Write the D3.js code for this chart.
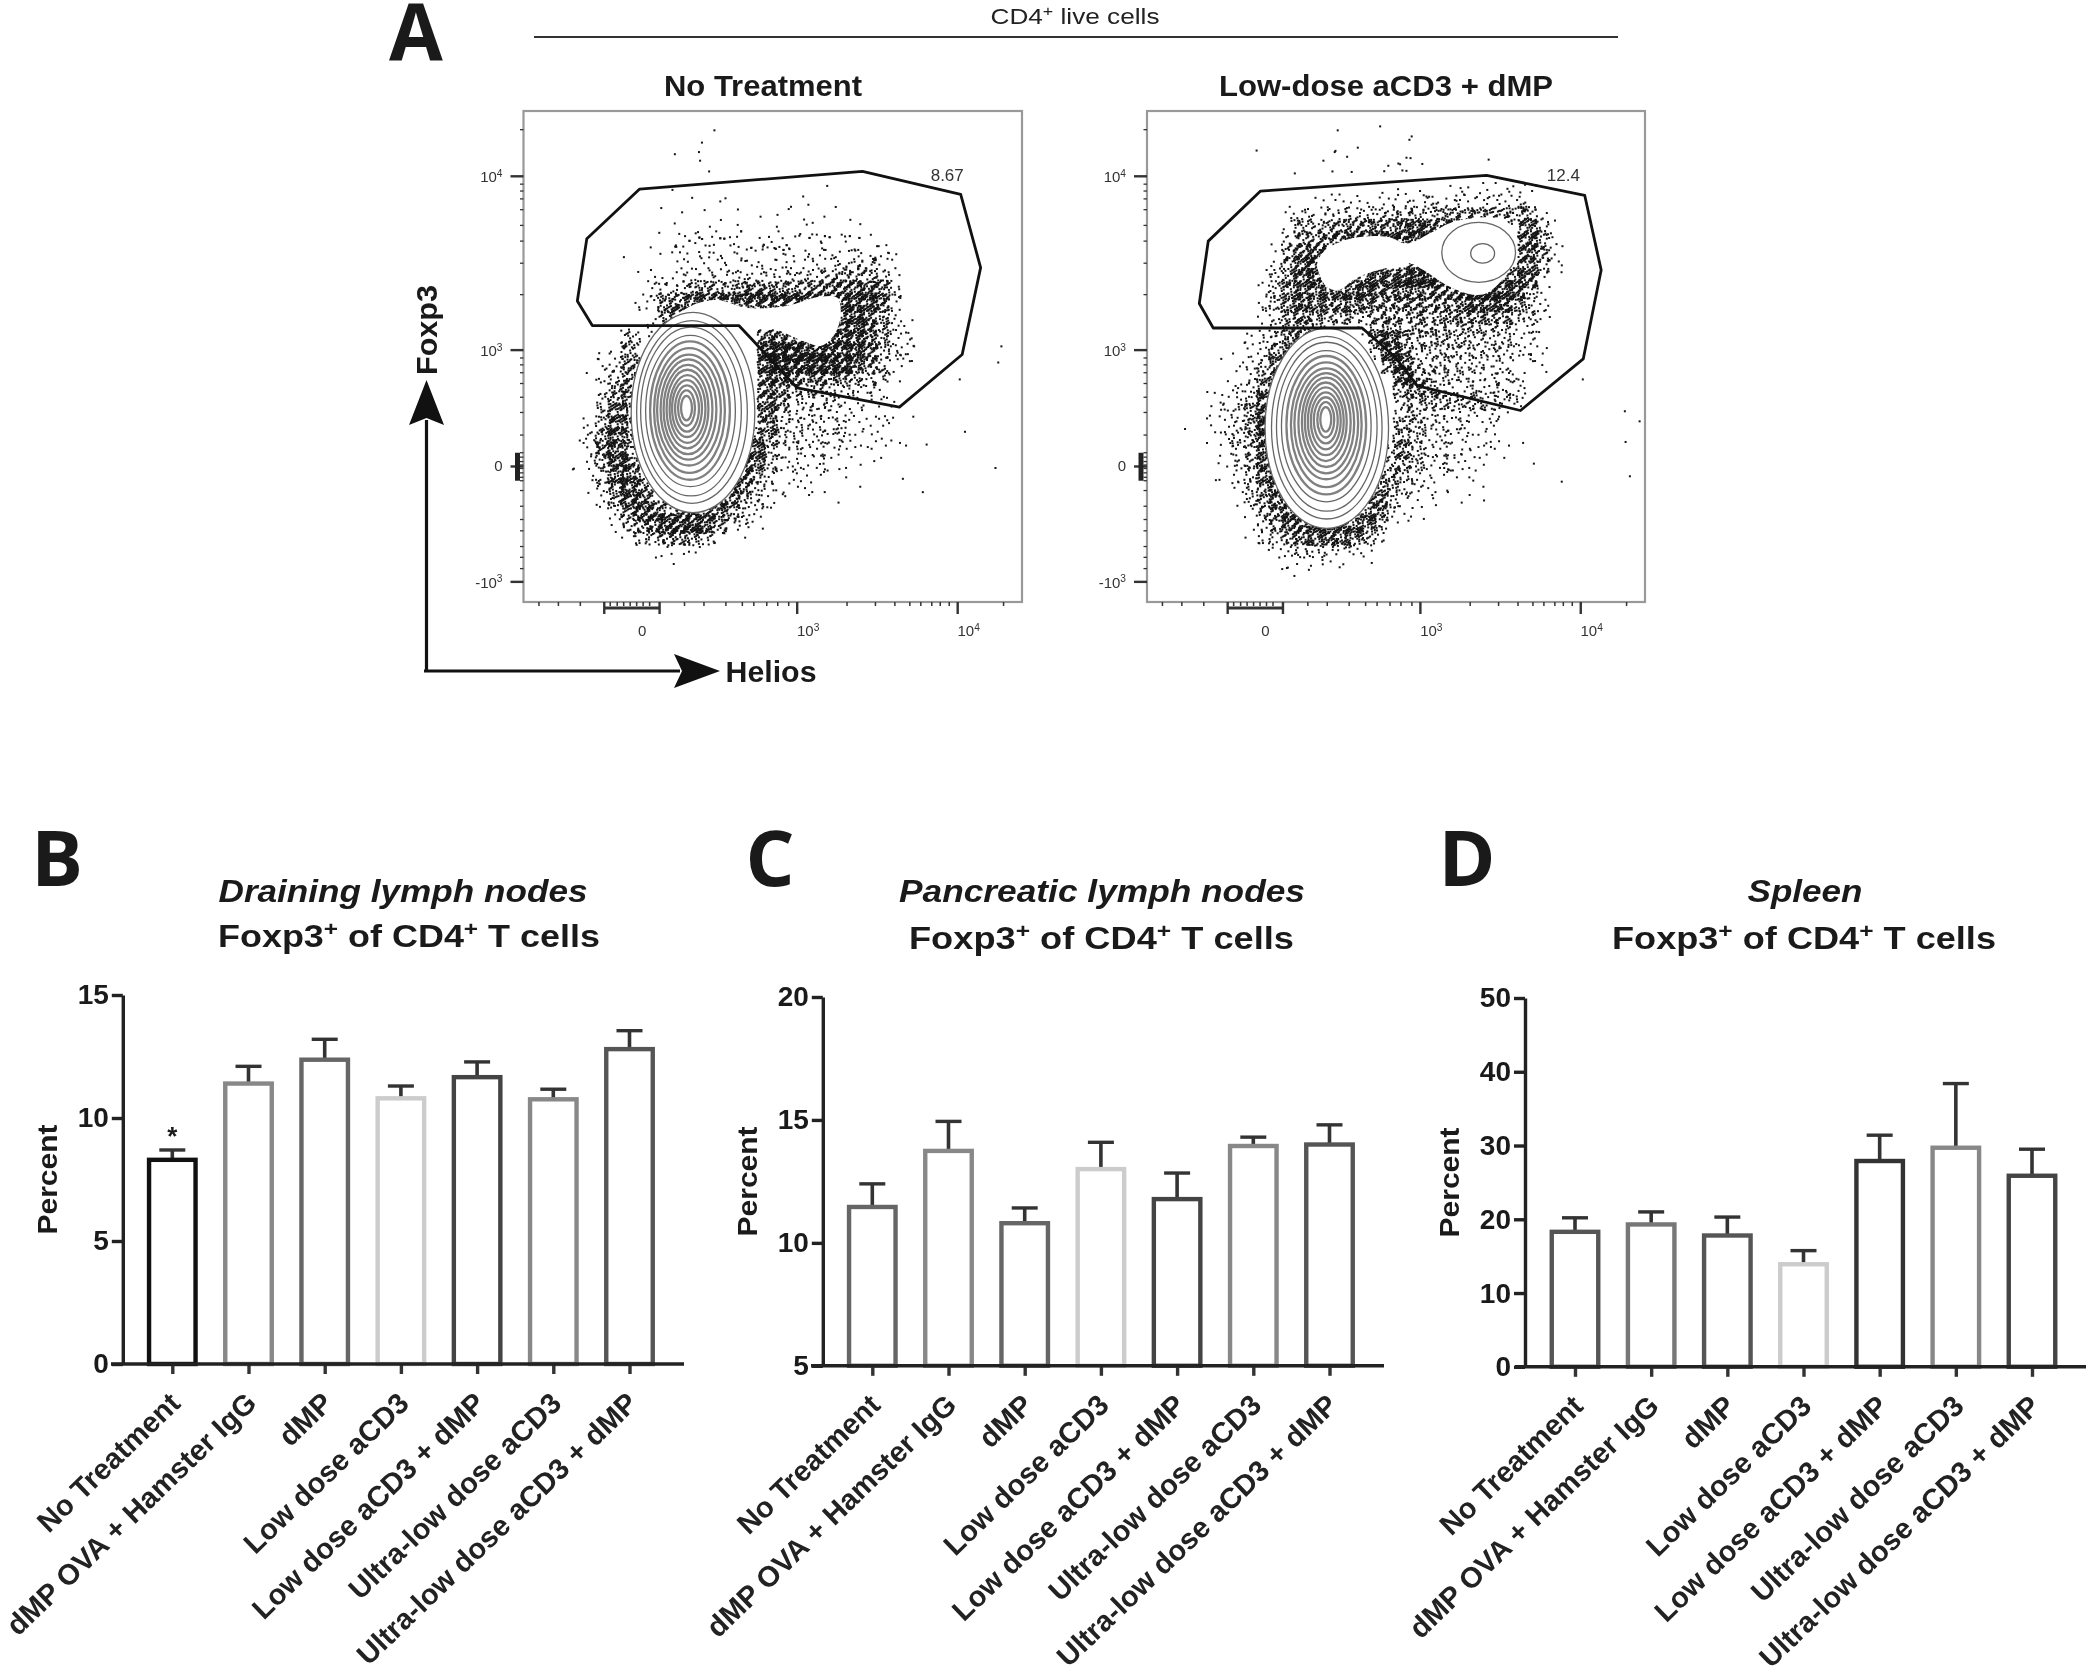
<!DOCTYPE html>
<html><head><meta charset="utf-8">
<style>html,body{margin:0;padding:0;background:#fff}svg{display:block;filter:blur(0.7px)}text{font-family:"Liberation Sans",Arial,sans-serif}</style>
<script src="https://cdn.jsdelivr.net/npm/d3@7"></script></head><body><svg id="c" width="2100" height="1679"></svg>
<script>
// ---------- Bar chart data ----------
const categories=["No Treatment","dMP OVA + Hamster IgG","dMP","Low dose aCD3","Low dose aCD3 + dMP","Ultra-low dose aCD3","Ultra-low dose aCD3 + dMP"];
const drainingMeans=[8.3,11.4,12.37,10.8,11.66,10.76,12.8];
const drainingUpper=[8.7,12.1,13.2,11.3,12.28,11.17,13.55];
const pancreaticMeans=[11.46,13.74,10.8,13.0,11.78,13.94,14.0];
const pancreaticUpper=[12.4,14.94,11.42,14.09,12.84,14.3,14.8];
const spleenMeans=[18.3,19.3,17.8,13.9,27.9,29.7,25.9];
const spleenUpper=[20.2,21.0,20.3,15.75,31.4,38.4,29.5];
const drainingColors=["#111","#888","#666","#ccc","#444","#888","#555"];
const pancreaticColors=["#666","#888","#666","#ccc","#444","#888","#555"];
const spleenColors=["#555","#777","#555","#ccc","#333","#888","#444"];
const drainingTicks=[0,5,10,15], pancreaticTicks=[5,10,15,20], spleenTicks=[0,10,20,30,40,50];

// ---------- Flow plot data: axes in percent of the plot frame ----------
const gateNoTreatment=[[23.3,84.1],[68,87.7],[87.7,83],[91.7,68.1],[88,50.4],[75.4,39.7],[54.9,43.6],[45.8,53.5],[43.2,56.3],[13.8,56.3],[10.8,61.3],[12.7,74]];
const gateLowDose=[[22.8,83.7],[68.2,86.9],[87.9,82.8],[91.2,67.6],[87.6,49.5],[75,39],[54.3,44],[49.8,49.9],[43.2,55.8],[13.3,55.8],[10.5,60.8],[12.3,73.5]];
// white, over-plotted lobes of the upper population
const lobeNoTreatment=[[30.1,57.6],[33.6,60.3],[38.8,61.5],[44.9,59.9],[52.7,60.3],[59.7,62.2],[63,61.9],[63.6,58.1],[62.3,54.4],[59.7,52.2],[56.2,53.1],[51,55.4],[46.6,56.7],[38.8,57.6]];
const lobeLowDose=[[34.2,69],[35.9,71.7],[40.8,74],[48.2,74.4],[52.3,73],[57.2,75.3],[62.1,77.6],[71.1,78],[74,75.3],[73.5,69],[68.6,63.1],[65.4,62.6],[60.4,64.4],[55.5,67.6],[52.7,69],[48.2,68.1],[42.4,66.2],[38.3,63.5],[35.9,64.4]];
const flowYMinor=[96.2,85.1,83.7,82.1,79.9,76.7,73.5,69,62.6,49.7,48.3,46.7,44.5,41.7,38.6,34,30.4,29.5,28.6,27.9,27.2,26.3,25.4,24.7,22.7,19.5,16.8,14.5,11.3,9.1,6.8];
const flowYMajor=[86.7,51.3,27.6,4.1];
const flowXMinor=[3.1,7,11.4,17.4,18.8,20.1,21.4,22.7,24,25.3,32.3,36.2,40.6,43.9,46.2,48.8,51,53.2,64.9,70.6,74.5,77.5,79.7,81.9,83.6,85.4,96.3];
const flowXMajor=[16.2,27.3,54.9,87.1];
const flowYLabels=[["10","4",86.7],["10","3",51.3],["0","",28],["-10","3",4.1]];
const flowXLabels=[["0","",23.8],["10","3",57.1],["10","4",89.3]];
// contour ellipses, outer to inner: centre x, centre y, radius x, radius y
const contourRx=[12.4,11.1,10.1,9,8,7.1,6.4,5.6,4.9,4.2,3.6,3,2.4,1.7,1.1];
const contourRy=[20.4,18.6,17.2,15.4,14.1,12.7,11.3,10.2,9.1,8,6.9,5.8,4.7,3.6,2.5];
const contourCxA=[34,33.8,33.6,33.5,33.4,33.3,33.2,33.1,33,32.9,32.9,32.8,32.8,32.7,32.7];
const contourCyA=[38.6,38.7,38.8,38.9,39,39,39.1,39.2,39.2,39.3,39.3,39.4,39.4,39.5,39.5];
const contourCxB=[36.1,36.1,36.1,36,36,36,36,36,36,35.9,35.9,35.9,35.9,35.9,35.9];
const contourCyB=[35.4,35.5,35.7,35.8,36,36.1,36.3,36.4,36.6,36.7,36.8,36.9,37,37.1,37.2];
const upperContoursB=[[66.6,71.2,7.4,6.1],[67.4,71,2.4,2]];
// Dot density, on a 40 x 40 cell grid. Each row: "col:level" or "from-to:level".
const densityNoTreatment=["","14:1","13-14:1","11:1 14:1","","15:1","12:1 16:1 22:1 24:1","11:1 13:1 15-16:1 21-22:1 24:1","12:1 14:1 16:1 18:1 20-24:1","11:1 13:1 15:1 17:1 19-23:1 25-26:1 28:1",
"10:1 11-28:1 12-26:2","8:1 11-29:2","9:1 12-24:2 25-28:4","10-13:2 14-22:3 23-28:5 29:2","10-12:3 13-17:6 18-24:7 25-28:8 29:4","9-11:3 11-12:7 13-25:8 26-28:8 29:4","11-12:7 25-27:8 28:5 29:3","10-11:4 12:6 25-27:8 28-29:5 30:2","7:1 8:6 19-21:8 22-23:4 24-27:8 28:6 29-30:3 37:1","6-7:2 8:6 19-23:9 24-26:8 27:7 28:5 29-30:3",
"5-7:2 8:7 19-25:9 26:8 27:7 28:5 29:3 30:2 37:1","5:1 6-7:3 8:7 19-20:8 21-25:7 26:6 27-28:4 29:2","6:3 7:6 8:8 19:8 20:7 21-24:5 25-28:3 35:1","6:4 7:7 8:5 19:8 20:6 21-24:4 25-28:2 29:1","6:5 7:8 8:4 19:8 20:5 21-26:3 27-30:1","5:2 6:6 7:8 8:5 19:7 20:5 21-25:3 26-29:2","4:2 5:3 6:7 7:8 8:5 18:7 19:7 20:4 21-25:3 26-28:2 29-31:1 35:1","5:3 6:7 7:8 8:6 18:8 19:6 20:3 21-25:3 26-29:1","4:1 5:3 6:6 7:8 8:7 17:8 18:8 19:5 20:3 21-24:2 25-27:1 38:1","4:1 5:2 6:5 7:8 8:8 17:8 18:6 19:4 20:2 21-23:2 24-25:1 30:1",
"5:2 6:4 7:7 8:8 9:7 16:8 17:7 18:5 19:3 20-22:2 23-24:1 26:1 31:1","6:3 7:6 8:8 9:8 15:8 16:8 17:5 18:4 19:2 20-21:1 24:1","6:2 7:4 8:7 9:8 10:8 11-14:5 15:8 16:6 17:4 18:3 19:1","7:3 8:5 9:7 10:8 11-14:9 15:6 16:4 17:3 18:2","8:2 9:4 10:6 11-13:7 14:5 15:3 16-17:1","8-9:1 10:2 11-13:2 14:1","12:1"];
const densityLowDose=["","14:1 18:1 21:1","15:1 20:1","9:1 14-17:1 27:1","12:1 16:1 19-21:2","15:1","17:1 18-22:1 24-30:2","12-13:1 14-19:2 20-22:3 23-30:3","11-14:3 15-19:4 20-23:5 24-30:6 31:3","11:3 12-13:5 14-15:6 16-19:7 20-24:8 30:8 31:5 32:2",
"11:4 12-13:6 14:7 15-22:8 23:6 30:8 31:6 32:2","10:2 11:6 12-13:8 30:8 31:6 32:3","10:3 11:6 12-13:8 21-23:8 30:8 31:5 32:2","9:2 10:4 11:6 12-13:8 17-19:8 20-23:9 24:8 29-30:8 31:4 32:1","9:3 10:4 11:7 12:8 13:7 14-17:8 18-24:7 25-28:9 29:8 30:6 31:3","9:3 10:5 11:7 12:8 13-17:7 18-23:6 24-25:7 26-28:8 29:7 30:5 31:2","9:3 10:4 11:6 12:7 13-16:6 17-20:5 21-24:6 25-28:7 29:5 30:4 31:3","8:1 9:2 10:3 11:5 12:7 13:4 14-17:2 18:6 19:7 20-26:5 27-28:4 29-30:3 31:2","7:1 8:2 9:3 10:5 11:7 12:4 18-19:8 20:6 21-24:5 25-28:4 29-30:3 31:1","7:1 8:2 9:3 10:7 11:6 18:4 19:9 20:7 21-28:4 29-31:2",
"6:1 7-8:2 9:4 10:7 11:3 19-20:8 21-24:4 25-28:3 29-31:2","6-7:1 8:3 9:6 10:7 20:9 21:6 22-25:4 26-29:3 30:1","5:1 6:2 7:3 8:4 9:7 10:6 20:7 21:7 22:6 23-29:3 35:1","5-6:2 7:3 8:5 9:8 10:3 20:4 21:5 22-23:6 24-26:5 27-29:4","4-5:1 6:3 7:4 8:6 9:8 20:5 21:4 22-27:3 28:2 38:1","3:1 5-6:2 7:4 8:6 9:9 20:6 21:5 22-24:3 25-27:2 39:1","5:1 6:3 7:4 8:6 9:8 20:6 21:4 22-24:3 25-27:2 28:1 38:1","5:1 6:2 7:3 8:6 9:8 19:5 20:7 21:4 22-24:3 25-27:2 28-29:1","5:1 6:2 7:3 8:5 9:8 19:5 20:6 21:4 22-24:3 25-26:2 31:1","6:1 7:3 8:5 9:8 10:4 19:6 20:5 21:3 22-24:2 25-26:1 33:1 38:1",
"5-6:1 7:2 8:4 9:7 10:7 18:6 19:6 20:4 21:3 22-23:2 24-26:1","7:2 8:4 9:6 10:8 11:6 18:8 19:4 20:3 21:2 22-24:1 27:1","7:1 8:3 9:5 10:7 11:8 12-16:3 17:6 18:8 19:3 20:2 21:1","8:2 9:4 10:6 11:8 12-16:7 17:8 18:5 19:2 20:1","8:1 9:3 10:5 11:6 12-16:8 17:6 18:3 19:1","8:1 9:2 10:3 11-15:4 16:3 17:2","10:1 11-14:2 15:1 17:1","12:1 15:1"];
const dotsPerLevel=[0,1,3,6,10,15,22,32,46,64];

const svg=d3.select("#c");
const INK="#1a1a1a";

function addText(parent,o){
  const t=parent.append("text").attr("x",o.x).attr("y",o.y).attr("text-anchor",o.anchor||"middle")
    .attr("font-size",o.size).attr("font-weight",o.weight||"bold").attr("font-style",o.italic?"italic":"normal").attr("fill",o.fill||INK);
  if(o.family) t.style("font-family",o.family);
  if(o.transform) t.attr("transform",o.transform);
  if(o.length) t.attr("textLength",o.length).attr("lengthAdjust","spacingAndGlyphs");
  (o.parts||[[o.text,false]]).forEach(([s,sup],i,arr)=>{
    const sp=t.append("tspan").text(s);
    if(sup){sp.attr("dy",-o.size*0.36).attr("font-size",o.size*0.68);}
    else if(i>0&&arr[i-1][1]){sp.attr("dy",o.size*0.36);}
  });
  return t;
}

// ---------- Panel letters and shared header ----------
const LETTER='"Open Sans","Liberation Sans",sans-serif';
[["A",416,60,78],["B",57,886,77],["C",770,886,77],["D",1467,886,77]].forEach(([s,x,y,f])=>addText(svg,{x,y,size:f,text:s,family:LETTER}));
addText(svg,{x:1075,y:24,size:22,weight:"normal",length:169,fill:"#222",parts:[["CD4",false],["+",true],[" live cells",false]]});
svg.append("line").attr("x1",534).attr("x2",1618).attr("y1",37).attr("y2",37).attr("stroke","#333").attr("stroke-width",2);

// ---------- Flow cytometry panels ----------
function parseDensity(rows){
  return rows.flatMap((row,r)=>row.split(" ").filter(Boolean).flatMap(tok=>{
    const [span,v]=tok.split(":"); const [a,b=a]=span.split("-").map(Number);
    return d3.range(a,b+1).map(col=>({col,row:r,level:+v}));
  }));
}
function flowPanel(o){
  const x=d3.scaleLinear().domain([0,100]).range([o.left,o.right]);
  const y=d3.scaleLinear().domain([0,100]).range([o.bottom,o.top]);
  const g=svg.append("g");
  // stipple the density cells. Where a dot falls inside its cell is texture only: a fixed
  // low-discrepancy sequence, spread slightly past the cell edge so the grid does not show.
  const frac=v=>v-Math.floor(v);
  const SPREAD=1.6;
  const dots=parseDensity(o.density).flatMap(c=>d3.range(dotsPerLevel[c.level]).map(k=>{
    const s=(c.col*c.col*3+c.row*c.row*7+c.col*c.row*5)%97+k;
    const ux=frac(s*0.75488+0.31*frac(s*0.1324));
    const uy=frac(s*0.56984+0.37*frac(s*0.2113));
    return {px:(c.col+0.5+(ux-0.5)*SPREAD)*2.5,py:100-(c.row+0.5+(uy-0.5)*SPREAD)*2.5};
  }));
  g.append("g").selectAll("rect").data(dots).join("rect")
    .attr("x",d=>x(d.px)).attr("y",d=>y(d.py)).attr("width",2).attr("height",2).attr("fill","#141414");
  g.append("path").attr("d",d3.line().x(d=>x(d[0])).y(d=>y(d[1])).curve(d3.curveCatmullRomClosed)(o.lobe)).attr("fill","#fff");
  g.append("g").selectAll("ellipse").data(contourRx).join("ellipse")
    .attr("cx",(d,i)=>x(o.cx[i])).attr("cy",(d,i)=>y(o.cy[i]))
    .attr("rx",d=>x(d)-x(0)).attr("ry",(d,i)=>y(0)-y(contourRy[i]))
    .attr("fill",(d,i)=>i==0?"#fff":"none").attr("stroke",(d,i)=>i<4?"#666":"#808080").attr("stroke-width",(d,i)=>i<4?1.3:2.3);
  g.append("g").selectAll("ellipse").data(o.upper||[]).join("ellipse")
    .attr("cx",d=>x(d[0])).attr("cy",d=>y(d[1])).attr("rx",d=>x(d[2])-x(0)).attr("ry",d=>y(0)-y(d[3]))
    .attr("fill","none").attr("stroke","#666").attr("stroke-width",1.3);
  g.append("path").attr("d",d3.line().x(d=>x(d[0])).y(d=>y(d[1])).curve(d3.curveLinearClosed)(o.gate))
    .attr("fill","none").attr("stroke","#111").attr("stroke-width",2.8).attr("stroke-linejoin","round");
  g.append("rect").attr("x",o.left).attr("y",o.top).attr("width",o.right-o.left).attr("height",o.bottom-o.top)
    .attr("fill","none").attr("stroke","#999").attr("stroke-width",2.2);
  // ticks
  const yT=[...flowYMinor.map(v=>[v,3.5,1.3]),...flowYMajor.map(v=>[v,13,2.4])];
  g.append("g").selectAll("line").data(yT).join("line")
    .attr("x1",o.left).attr("x2",d=>o.left-d[1]).attr("y1",d=>y(d[0])).attr("y2",d=>y(d[0]))
    .attr("stroke","#333").attr("stroke-width",d=>d[2]);
  const xT=[...flowXMinor.map(v=>[v,4,1.5]),...flowXMajor.map(v=>[v,12,2.4])];
  g.append("g").selectAll("line").data(xT).join("line")
    .attr("y1",o.bottom).attr("y2",d=>o.bottom+d[1]).attr("x1",d=>x(d[0])).attr("x2",d=>x(d[0]))
    .attr("stroke","#333").attr("stroke-width",d=>d[2]);
  g.append("line").attr("x1",x(16.2)).attr("x2",x(27.3)).attr("y1",o.bottom+6).attr("y2",o.bottom+6).attr("stroke","#333").attr("stroke-width",3);
  g.append("line").attr("y1",y(30.4)).attr("y2",y(24.7)).attr("x1",o.left-6).attr("x2",o.left-6).attr("stroke","#222").attr("stroke-width",5);
  flowYLabels.forEach(([b,s,v])=>addText(g,{x:o.left-21,y:y(v)+6,size:15,weight:"normal",anchor:"end",fill:"#333",parts:s?[[b,false],[s,true]]:[[b,false]]}));
  flowXLabels.forEach(([b,s,v])=>addText(g,{x:x(v),y:o.bottom+34,size:15,weight:"normal",fill:"#333",parts:s?[[b,false],[s,true]]:[[b,false]]}));
  addText(g,{x:x(o.statX),y:181,size:17,weight:"normal",fill:"#333",text:o.stat});
  addText(g,{x:o.titleX,y:96,size:30,length:o.titleLen,text:o.title});
}
flowPanel({left:523.5,right:1022,top:111,bottom:602,density:densityNoTreatment,lobe:lobeNoTreatment,gate:gateNoTreatment,cx:contourCxA,cy:contourCyA,stat:"8.67",statX:85,title:"No Treatment",titleX:763,titleLen:198});
flowPanel({left:1147,right:1645,top:111,bottom:602,density:densityLowDose,lobe:lobeLowDose,gate:gateLowDose,cx:contourCxB,cy:contourCyB,upper:upperContoursB,stat:"12.4",statX:83.6,title:"Low-dose aCD3 + dMP",titleX:1386,titleLen:334});

// Foxp3 / Helios arrows
svg.append("path").attr("d","M426.5 672V420M424 671H680").attr("fill","none").attr("stroke","#111").attr("stroke-width",3.2);
svg.append("path").attr("d","M426.5 380L444 425L426.5 418L409 425Z").attr("fill","#111");
svg.append("path").attr("d","M720 671L674 654L682 671L674 688Z").attr("fill","#111");
addText(svg,{x:0,y:0,size:29,length:90,text:"Foxp3",transform:"translate(437,330) rotate(-90)"});
addText(svg,{x:771,y:682,size:29,length:91,text:"Helios"});

// ---------- Bar panels ----------
function barPanel(o){
  const y=d3.scaleLinear().domain(o.domain).range([o.y0,o.y1]);
  const x=d3.scalePoint().domain(categories).range([o.first,o.last]);
  const g=svg.append("g");
  const rows=categories.map((c,i)=>({c,v:o.means[i],hi:o.upper[i],col:o.colors[i]}));
  const BW=46.5;
  g.append("g").selectAll("line").data(rows).join("line")
    .attr("x1",d=>x(d.c)).attr("x2",d=>x(d.c)).attr("y1",d=>y(d.v)).attr("y2",d=>y(d.hi)).attr("stroke","#333").attr("stroke-width",3.6);
  g.append("g").selectAll("line").data(rows).join("line")
    .attr("x1",d=>x(d.c)-13).attr("x2",d=>x(d.c)+13).attr("y1",d=>y(d.hi)).attr("y2",d=>y(d.hi)).attr("stroke","#333").attr("stroke-width",3.4);
  g.append("g").selectAll("rect").data(rows).join("rect")
    .attr("x",d=>x(d.c)-BW/2).attr("width",BW).attr("y",d=>y(d.v)).attr("height",d=>y(o.domain[0])-y(d.v))
    .attr("fill","#fff").attr("stroke",d=>d.col).attr("stroke-width",4.4);
  const ya=g.append("g").attr("transform",`translate(${o.axisX},0)`)
    .call(d3.axisLeft(y).tickValues(o.ticks).tickSize(11).tickPadding(3).tickSizeOuter(0));
  ya.select(".domain").attr("stroke","#222").attr("stroke-width",3.4);
  ya.selectAll(".tick line").attr("stroke","#222").attr("stroke-width",3.4);
  ya.selectAll(".tick text").attr("font-size",28).attr("font-weight","bold").attr("fill",INK).style("font-family",'"Liberation Sans",sans-serif');
  const xa=g.append("g").attr("transform",`translate(0,${o.y0})`).call(d3.axisBottom(x).tickSize(10).tickSizeOuter(0).tickPadding(4));
  xa.select(".domain").remove();
  xa.selectAll(".tick line").attr("stroke","#333").attr("stroke-width",3.4);
  xa.selectAll(".tick text").attr("font-size",29).attr("font-weight","bold").attr("fill","#222").style("font-family",'"Liberation Sans",sans-serif')
    .attr("text-anchor","end").attr("dx","-22px").attr("dy","22px").attr("transform","rotate(-44)");
  g.append("line").attr("x1",o.axisL).attr("x2",o.axisR).attr("y1",o.y0).attr("y2",o.y0).attr("stroke","#222").attr("stroke-width",3.6);
  addText(g,{x:0,y:0,size:28,length:110,text:"Percent",transform:`translate(${o.axisX-66},${(o.y0+o.y1)/2+0}) rotate(-90)`});
  addText(g,{x:o.title1X,y:902,size:31,italic:true,length:o.title1Len,text:o.title1});
  addText(g,{x:o.title2X,y:o.title2Y,size:31,length:o.title2Len,parts:[["Foxp3",false],["+",true],[" of CD4",false],["+",true],[" T cells",false]]});
  if(o.star) addText(g,{x:x(categories[0]),y:o.starY,size:26,text:"*"});
}
barPanel({domain:[0,15],ticks:drainingTicks,means:drainingMeans,upper:drainingUpper,colors:drainingColors,y0:1364,y1:995,first:172.3,last:629.5,axisX:122.8,axisL:111,axisR:684,title1:"Draining lymph nodes",title1X:403,title1Len:369,title2X:409,title2Y:947,title2Len:382,star:true,starY:1145});
barPanel({domain:[5,20],ticks:pancreaticTicks,means:pancreaticMeans,upper:pancreaticUpper,colors:pancreaticColors,y0:1365.8,y1:997,first:872.3,last:1329.5,axisX:822.8,axisL:811,axisR:1384,title1:"Pancreatic lymph nodes",title1X:1102,title1Len:406,title2X:1101.5,title2Y:949,title2Len:385});
barPanel({domain:[0,50],ticks:spleenTicks,means:spleenMeans,upper:spleenUpper,colors:spleenColors,y0:1366.8,y1:998,first:1575,last:2032,axisX:1525,axisL:1515,axisR:2086,title1:"Spleen",title1X:1805,title1Len:115,title2X:1804,title2Y:949,title2Len:384});
</script></body></html>
